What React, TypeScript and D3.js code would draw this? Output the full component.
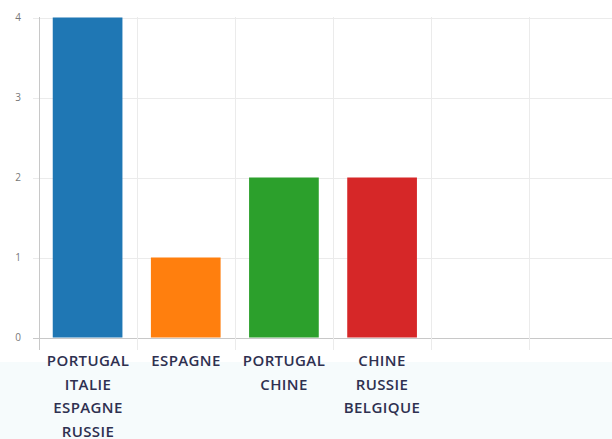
import React from "react";
import * as d3 from "d3";

const categories = ["A", "B", "C", "D", "E", "F"];
const values = [4, 1, 2, 2, null, null];
const labels = [
  ["PORTUGAL", "ITALIE", "ESPAGNE", "RUSSIE"],
  ["ESPAGNE"],
  ["PORTUGAL", "CHINE"],
  ["CHINE", "RUSSIE", "BELGIQUE"],
  [],
  [],
];
const colors = ["#1f77b4", "#ff7f0e", "#2ca02c", "#d62728"];
const yTicks = [0, 1, 2, 3, 4];

export default function App() {
  const W = 612, H = 439;
  const x0 = 39, x1 = 39 + 98 * 6;
  const y = d3.scaleLinear().domain([0, 4]).range([337.5, 17.5]);
  const x = d3.scaleBand<string>().domain(categories).range([x0, x1]).paddingInner(0.29).paddingOuter(0.14);
  const band = d3.scaleBand<string>().domain(categories).range([x0, x1]);
  return (
    <svg width={W} height={H} style={{ position: "absolute", left: 0, top: 0, background: "#fff" }}>
      <rect x={0} y={362} width={W} height={H - 362} fill="#f6fbfc" />
      {yTicks.map((t) => (
        <g key={t}>
          <line x1={33} x2={W} y1={Math.round(y(t)) + 0.5} y2={Math.round(y(t)) + 0.5} stroke={t === 0 ? "#c8c8c8" : "#ebebeb"} strokeWidth={1} />
          <text x={21} y={y(t) + 3.5} fontSize={10} fill="#777" textAnchor="end" fontFamily="Open Sans, sans-serif">{t}</text>
        </g>
      ))}
      {categories.map((c, i) => (
        <line key={"g" + c} x1={Math.round(band(c)!) + 0.5} x2={Math.round(band(c)!) + 0.5} y1={17} y2={350} stroke={i === 0 ? "#c8c8c8" : "#ebebeb"} />
      ))}
      <line x1={x1 + 0.5} x2={x1 + 0.5} y1={17} y2={350} stroke="#ebebeb" />
      {categories.map((c, i) =>
        values[i] == null ? null : (
          <rect key={"b" + c} x={x(c)} y={y(values[i] as number)} width={x.bandwidth()} height={y(0) - y(values[i] as number)} fill={colors[i]} />
        )
      )}
      {categories.map((c, i) => (
        <text key={"l" + c} textAnchor="middle" fontFamily="Open Sans, sans-serif" fontWeight={600} fontSize={15} letterSpacing={0.4} fill="#2e3050">
          {labels[i].map((s, j) => (
            <tspan key={j} x={band(c)! + band.bandwidth() / 2} y={366 + j * 23.7}>{s}</tspan>
          ))}
        </text>
      ))}
    </svg>
  );
}
